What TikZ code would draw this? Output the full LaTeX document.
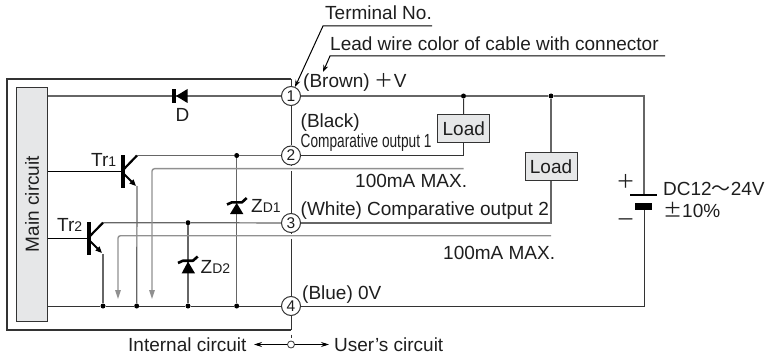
\documentclass[tikz,border=0pt]{standalone}
\usepackage{fontspec}
\setmainfont{Liberation Sans}
\newfontfamily\cjk{Noto Sans CJK JP}
\usetikzlibrary{arrows.meta}
\definecolor{wire}{HTML}{333333}
\definecolor{midwire}{HTML}{666666}
\definecolor{cur}{HTML}{909090}
\definecolor{boxfill}{HTML}{E6E7E8}
\definecolor{ink}{HTML}{1E1E1E}
\tikzset{
  wireline/.style={draw=wire,line width=1pt},
  midline/.style={draw=midwire,line width=1.2pt},
  baseline/.style={draw=black,line width=0.9pt},
  curline/.style={draw=cur,line width=1.4pt,rounded corners=2.5pt,-{Triangle[length=9pt,width=5.5pt]}},
  term/.style={circle,draw=wire,line width=1pt,fill=white,minimum size=19pt,inner sep=0pt,text=ink,font=\fontsize{15.5}{16}\selectfont},
  loadbox/.style={rectangle,draw=wire,line width=1pt,fill=boxfill,minimum width=52pt,minimum height=28pt,inner sep=0pt,text=ink,font=\fontsize{19}{21}\selectfont},
  lab/.style={anchor=base west,inner sep=0pt,text=ink,font=\fontsize{19}{21}\selectfont},
  dotn/.style={circle,fill=black,minimum size=5pt,inner sep=0pt},
  plate/.style={fill=black,draw=none},
  leader/.style={draw=black,line width=1pt,-{Stealth[length=7pt,width=5pt]}},
  trleg/.style={draw=black,line width=2.2pt},
  zenbar/.style={draw=black,line width=2.6pt,line join=round},
}
\newcommand{\sub}[1]{{\fontsize{14}{15}\selectfont #1}}
\begin{document}
\begin{tikzpicture}[x=1pt,y=-1pt]
\useasboundingbox (0,0) rectangle (765,358);
% enclosure and main circuit
\draw[draw=wire,line width=1.1pt] (291,79) -- (7,79) -- (7,330) -- (291,330);
\node[rectangle,draw=wire,line width=1pt,fill=boxfill,minimum width=31.5pt,minimum height=233.5pt,inner sep=0pt] (main) at (31.75,204.25) {};
\node[rotate=90,inner sep=0pt,text=ink,font=\fontsize{19}{21}\selectfont] (mainlab) at (32,204) {Main circuit};
% terminals
\coordinate (t0) at (291,79);
\coordinate (t5) at (291,330);
\node[term] (T1) at (291,96) {1};
\node[term] (T2) at (291,155.5) {2};
\node[term] (T3) at (291,223) {3};
\node[term] (T4) at (291,306) {4};
\coordinate (g1a) at (291,166.5);
\coordinate (g1b) at (291,171.5);
\coordinate (g2a) at (291,233.5);
\coordinate (g2b) at (291,238.5);
\draw[wireline] (t0) -- (T1) (T1) -- (T2) (T2) -- (g1a) (g1b) -- (T3) (T3) -- (g2a) (g2b) -- (T4) (T4) -- (t5);
\draw[draw=wire,line width=0.8pt] (291,334.5) -- (291,338);
% loads and supply
\node[dotn] (j1) at (463.5,96) {};
\node[dotn] (j2) at (551,96) {};
\node[loadbox] (L1) at (463.75,129) {Load};
\node[loadbox] (L2) at (551,167) {Load};
\coordinate (pr) at (644,96);
\coordinate (pb) at (644,306);
\coordinate (bt) at (644,195);
\coordinate (bb) at (644,206);
\draw[midline] (T1) -- (j1) -- (j2) -- (pr) -- (bt);
\draw[wireline] (bb) -- (pb) -- (T4);
\draw[wireline] (j1) -- (L1);
\draw[midline] (j2) -- (L2);
\draw[wireline] (L1.south) |- (T2.east);
\draw[midline] (L2.south) |- (T3.east);
% battery
\fill[plate] (630,193.7) rectangle (657.3,196.3);
\fill[plate] (635,202.7) rectangle (652,210);
% top line with diode
\draw[midline] (main.east |- T1) -- (T1);
\fill[black] (172.3,89) rectangle (176,103);
\fill[black] (176,96) -- (187.5,89) -- (187.5,103) -- cycle;
\node[lab] (dl) at (175.5,122) {D};
% Tr1
\coordinate (b1) at (121,171.3);
\coordinate (c1) at (137,155.5);
\coordinate (e1) at (137,186);
\node[dotn] (d1) at (236.7,155.5) {};
\node[dotn] (d2) at (188,222.7) {};
\node[dotn] (n1) at (103,306) {};
\node[dotn] (n2) at (136.7,306) {};
\node[dotn] (n3) at (188,306) {};
\node[dotn] (n4) at (236.7,306) {};
\draw[baseline] (main.east |- b1) -- (b1);
\fill[black] (120.7,155) rectangle (125.3,187.7);
\draw[trleg] (124,169) -- (c1);
\draw[draw=black,line width=1.8pt,-{Triangle[length=6.5pt,width=5.5pt]}] (124,174) -- (136,186);
\draw[midline] (c1) -- (d1) -- (T2);
\draw[midline] (e1) -- (n2);
% Tr2
\coordinate (b2) at (87,238.3);
\coordinate (c2) at (103,222.7);
\coordinate (e2) at (103,254);
\draw[baseline] (main.east |- b2) -- (b2);
\fill[black] (86.7,221.7) rectangle (91.3,255);
\draw[trleg] (90,236) -- (c2);
\draw[draw=black,line width=1.8pt,-{Triangle[length=6.5pt,width=5.5pt]}] (90,241) -- (102,253);
\draw[midline] (c2) -- (d2) -- (T3);
\draw[midline] (e2) -- (n1);
% bottom rail
\draw[wireline] (main.east |- T4) -- (n1) -- (n2) -- (n3) -- (n4) -- (T4);
% zeners
\draw[midline] (d1) -- (n4);
\draw[midline] (d2) -- (n3);
\fill[black] (236.7,203) -- (230,214) -- (243.3,214) -- cycle;
\draw[zenbar] (227,204.5) -- (232,202.3) -- (242,202.3) -- (246.7,198);
\fill[black] (188,261.5) -- (181.7,273.3) -- (195,273.3) -- cycle;
\draw[zenbar] (178,263) -- (183,260.7) -- (193,260.7) -- (197.7,256.5);
% current paths
\coordinate (i1s) at (463.5,168.7);
\coordinate (i1c) at (152,168.7);
\coordinate (i1e) at (152,299);
\coordinate (i2s) at (551,235.7);
\coordinate (i2c) at (118,235.7);
\coordinate (i2e) at (118,299);
\draw[curline] (i1s) -- (i1c) -- (i1e);
\draw[curline] (i2s) -- (i2c) -- (i2e);
% leaders
\coordinate (la) at (432,26);
\coordinate (lb) at (323,26);
\coordinate (lc) at (665,56);
\coordinate (ld) at (330,56);
\coordinate (tipa) at (295,87);
\coordinate (tipb) at (323,72);
\draw[leader] (la) -- (lb) -- (tipa);
\draw[leader] (lc) -- (ld) -- (tipb);
% side arrows
\node[circle,draw=wire,line width=0.8pt,fill=white,minimum size=7pt,inner sep=0pt] (sep) at (291,344.5) {};
\coordinate (al) at (254,344.5);
\coordinate (ar) at (329,344.5);
\draw[draw=black,line width=0.8pt,-{Stealth[length=8pt,width=5pt]}] (sep) -- (al);
\draw[draw=black,line width=0.8pt,-{Stealth[length=8pt,width=5pt]}] (sep) -- (ar);
% labels
\node[lab] (a1) at (325,20) {Terminal No.};
\node[lab] (a2) at (330,51) {Lead wire color of cable with connector};
\node[lab] (a3) at (303,88) {(Brown) {\cjk ＋}V};
\node[lab] (a4) at (300.5,128) {(Black)};
\node[lab] (a5) at (300.5,148) {\scalebox{0.72}[1]{Comparative output 1}};
\node[lab] (a6) at (355,188) {100mA MAX.};
\node[lab] (a7) at (300.5,215) {(White) Comparative output 2};
\node[lab] (a8) at (443,259) {100mA MAX.};
\node[lab] (a9) at (302,299) {(Blue) 0V};
\node[lab] (a10) at (128,351) {Internal circuit};
\node[lab] (a11) at (334,351) {User's circuit};
\node[lab] (a12) at (91,167) {Tr\sub{1}};
\node[lab] (a13) at (57,231) {Tr\sub{2}};
\node[lab] (a14) at (251,212) {Z\sub{D1}};
\node[lab] (a15) at (200.5,273) {Z\sub{D2}};
\node[lab] (a16) at (663,195) {DC12{\cjk ～}24V};
\node[lab] (a17) at (663,217) {{\cjk ±}10\%};
\node[lab] (a18) at (616,189) {{\cjk ＋}};
\node[lab] (a19) at (616,226) {{\cjk －}};
\end{tikzpicture}
\end{document}
